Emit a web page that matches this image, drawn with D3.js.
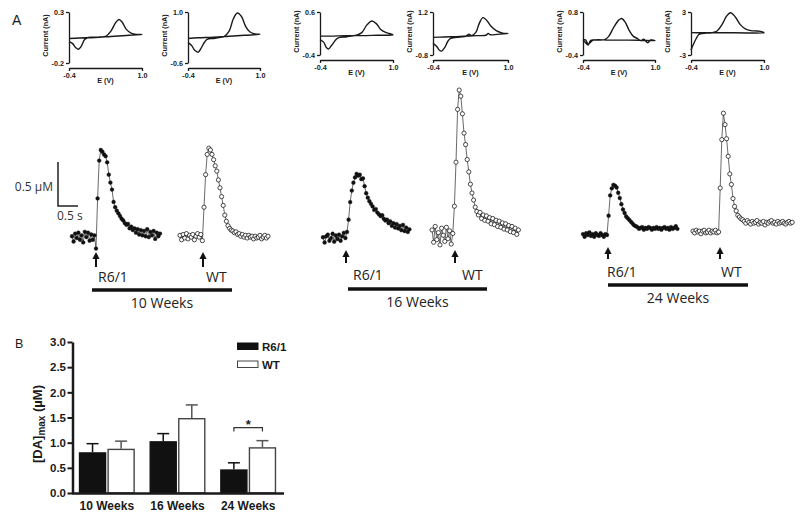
<!DOCTYPE html>
<html><head><meta charset="utf-8">
<script src="https://cdn.jsdelivr.net/npm/d3@7"></script>
<style>body{margin:0;background:#fff}svg{display:block}</style>
</head><body><svg id="c" width="800" height="517"></svg>
<script>
// ---------------- DATA ----------------
// Cyclic voltammograms (E in V, current in nA)
const cvXTicks = [-0.4, 1.0];
const cv1E = [-0.4,-0.33,-0.27,-0.22,-0.17,-0.1,-0.03,0.1,0.2,0.3,0.4,0.5,0.56,0.62,0.7,0.8,0.9,1.0,0.7,0.4,0.1,-0.2,-0.4];
const cv1I = [0.01,-0.01,-0.05,-0.065,-0.04,0.03,0.05,0.052,0.055,0.06,0.11,0.2,0.226,0.2,0.13,0.09,0.08,0.08,0.07,0.06,0.05,0.045,0.04];
const cv2E = [-0.4,-0.33,-0.27,-0.2,-0.15,-0.08,-0.03,0.1,0.2,0.3,0.4,0.48,0.56,0.64,0.72,0.8,0.9,1.0,0.7,0.4,0.1,-0.2,-0.4];
const cv2I = [0.04,-0.05,-0.2,-0.26,-0.15,0.05,0.14,0.17,0.2,0.23,0.4,0.78,0.97,0.86,0.55,0.38,0.31,0.3,0.27,0.24,0.21,0.19,0.17];
const cv3E = [-0.4,-0.33,-0.28,-0.24,-0.18,-0.1,-0.05,0.1,0.2,0.3,0.4,0.5,0.59,0.68,0.76,0.85,0.93,1.0,0.7,0.4,0.1,-0.2,-0.4];
const cv3I = [-0.04,-0.1,-0.22,-0.26,-0.18,-0.05,0.0,0.02,0.04,0.06,0.12,0.3,0.39,0.33,0.2,0.13,0.1,0.07,0.06,0.05,0.05,0.04,0.04];
const cv4E = [-0.4,-0.33,-0.28,-0.24,-0.18,-0.12,-0.07,0.1,0.22,0.27,0.32,0.4,0.46,0.53,0.6,0.68,0.78,0.9,1.0,0.8,0.67,0.63,0.59,0.4,0.1,-0.2,-0.4];
const cv4I = [-0.26,-0.4,-0.58,-0.62,-0.45,-0.15,-0.03,0.04,0.08,0.17,0.1,0.25,0.65,0.94,0.82,0.55,0.33,0.22,0.2,0.16,0.14,0.2,0.12,0.1,0.06,0.04,0.02];
const cv5E = [-0.4,-0.35,-0.3,-0.25,-0.15,-0.05,0.02,0.1,0.2,0.3,0.35,0.42,0.5,0.58,0.66,0.72,0.78,0.86,0.92,1.0,0.7,0.4,0.1,-0.2,-0.3,-0.35,-0.4];
const cv5I = [0.03,-0.06,-0.12,0.01,0.015,0.02,0.03,0.12,0.38,0.58,0.62,0.52,0.28,0.12,0.06,0.0,0.04,-0.06,0.02,0.0,0.01,0.015,0.015,0.015,-0.09,0.02,0.02];
const cv6E = [-0.4,-0.36,-0.3,-0.25,-0.2,-0.1,0.0,0.1,0.2,0.28,0.36,0.45,0.55,0.65,0.75,0.85,0.93,1.0,0.7,0.4,0.1,-0.2,-0.4];
const cv6I = [-2.3,-1.6,-0.7,-0.15,0.0,0.05,0.1,0.35,1.3,2.4,2.9,2.3,1.2,0.6,0.4,0.35,0.3,0.1,0.08,0.1,0.1,0.1,0.12];
const cvYMin = [-0.2,-0.6,-0.4,-0.8,-0.4,-3];
const cvYMax = [0.3,1.0,0.6,1.2,0.8,3];
const cvYLabels = [["-0.2","0.3"],["-0.6","1.0"],["-0.4","0.6"],["-0.8","1.2"],["-0.4","0.8"],["-3","3"]];

// Evoked dopamine traces (µM above baseline), one sample every traceDt s
const traceDt = 0.04;
const trace10R6 = [0.02,-0.04,0.05,0.00,0.06,-0.02,0.03,-0.05,0.07,0.01,0.06,-0.03,0.04,-0.02,0.03,
  -0.12,0.45,0.88,
  1.00,0.98,0.95,0.93,0.86,0.72,0.63,0.55,0.41,0.35,0.31,0.28,0.25,0.22,0.20,0.17,0.15,0.16,0.11,0.13,0.09,
  0.11,0.06,0.10,0.04,0.09,0.03,0.08,0.02,0.10,0.01,0.07,0.03,0.08,-0.01,0.06,0.02,0.05];
const trace10WT = [0.03,-0.02,0.04,0.00,0.05,-0.01,0.03,0.01,0.04,-0.02,0.02,0.05,0.01,0.04,
  -0.03,0.35,0.72,0.95,
  1.02,1.00,0.95,0.89,0.82,0.76,0.66,0.57,0.47,0.37,0.26,0.19,0.14,0.11,0.09,0.08,0.06,0.07,0.04,0.05,0.02,
  0.04,0.01,0.03,0.00,0.03,0.01,0.02,-0.01,0.02,0.00,0.01,0.03,-0.01,0.01,0.03,0.00,0.02];
const trace16R6 = [0.02,-0.04,0.03,0.05,-0.02,0.01,0.06,-0.03,0.04,0.00,0.05,-0.02,0.03,0.07,0.01,
  0.08,0.22,0.42,0.55,0.64,0.70,0.74,0.72,0.73,0.68,0.69,0.60,0.52,0.47,0.43,0.40,0.37,0.33,0.34,0.30,
  0.28,0.26,0.27,0.23,0.21,0.22,0.18,0.20,0.15,0.18,0.13,0.17,0.12,0.15,0.10,0.16,0.09,0.13,0.08,0.11];
const trace16WT = [0.08,-0.06,0.12,-0.03,0.05,-0.09,0.10,0.02,-0.05,0.11,-0.02,0.07,-0.08,0.04,
  0.35,0.85,1.45,1.67,1.60,1.40,1.18,1.05,0.88,0.74,0.60,0.50,0.42,0.34,0.29,0.25,0.28,0.21,0.25,0.19,
  0.24,0.18,0.22,0.15,0.21,0.14,0.19,0.12,0.18,0.11,0.16,0.09,0.15,0.08,0.13,0.06,0.12,0.05,0.10,0.03,0.08];
const trace24R6 = [0.01,-0.02,0.02,0.00,0.03,-0.01,0.01,-0.02,0.02,0.00,-0.01,0.02,0.00,-0.02,0.01,0.00,
  0.22,0.45,0.53,0.57,0.56,0.54,0.48,0.42,0.35,0.29,0.25,0.21,0.19,0.17,0.15,0.13,0.11,0.10,
  0.09,0.07,0.08,0.09,0.06,0.08,0.07,0.09,0.08,0.06,0.08,0.07,0.09,0.07,0.08,0.06,0.08,0.09,0.07,0.08,0.06,0.09,0.07,0.08,0.10,0.07];
const trace24WT = [0.01,-0.01,0.02,0.00,0.01,-0.02,0.01,0.02,-0.01,0.00,0.02,-0.01,0.01,0.00,0.02,-0.01,0.00,
  0.50,1.05,1.35,1.22,1.06,0.86,0.66,0.54,0.38,0.29,0.24,0.19,0.17,0.15,0.14,
  0.12,0.10,0.13,0.11,0.09,0.12,0.10,0.11,0.13,0.09,0.11,0.10,0.12,0.08,0.11,0.10,0.12,0.13,0.10,0.11,0.09,0.12,0.10,0.11,0.12,0.10,0.09,0.11,0.12,0.10,0.11];

const groups = ["10 Weeks","16 Weeks","24 Weeks"];
const genotypes = ["R6/1","WT"];
const scaleBarConc = 0.5;   // µM
const scaleBarTime = 0.5;   // s

// Panel B: [DA]max (µM), mean and SEM
const daMaxR6 = [0.81, 1.03, 0.47];
const daMaxWT = [0.88, 1.49, 0.91];
const semR6 = [0.17, 0.15, 0.13];
const semWT = [0.15, 0.26, 0.13];
const yTicksB = [0, 0.5, 1.0, 1.5, 2.0, 2.5, 3.0];
const sigGroup = "24 Weeks";
const sigLevel = 1.30;

// ---------------- DRAW ----------------
const svg = d3.select("#c");
const ink = "#1a1a1a";
const fontA = "'Open Sans', 'Noto Sans', sans-serif";
const fontB = "'Liberation Sans', Arial, sans-serif";

svg.append("text").attr("x",12).attr("y",25).attr("font-family",fontB).attr("font-size",14).attr("fill",ink).text("A");
svg.append("text").attr("x",15).attr("y",348).attr("font-family",fontB).attr("font-size",12.5).attr("fill",ink).text("B");

// ---- CV insets ----
const cvE = [cv1E,cv2E,cv3E,cv4E,cv5E,cv6E];
const cvI = [cv1I,cv2I,cv3I,cv4I,cv5I,cv6I];
const cvLayout = [
  {x0:69,x1:142,yTop:12,yBot:63,axisY:68},
  {x0:188,x1:260,yTop:12,yBot:63,axisY:68},
  {x0:320,x1:393,yTop:12,yBot:55,axisY:60},
  {x0:433,x1:508,yTop:12,yBot:55,axisY:60},
  {x0:583,x1:655,yTop:12,yBot:55,axisY:60},
  {x0:691,x1:764,yTop:12,yBot:55,axisY:60}
];
function styleSmallAxis(g){
  g.attr("font-family",fontB).attr("font-size",7.2).attr("font-weight","bold");
  g.select(".domain").attr("stroke",ink).attr("stroke-width",1.3);
  g.selectAll(".tick line").attr("stroke",ink).attr("stroke-width",1.3);
  g.selectAll(".tick text").attr("fill",ink);
}
cvLayout.forEach((L,k)=>{
  const x = d3.scaleLinear().domain([-0.4,1.0]).range([L.x0,L.x1]);
  const y = d3.scaleLinear().domain([cvYMin[k],cvYMax[k]]).range([L.yBot,L.yTop]);
  const g = svg.append("g");
  g.append("g").attr("transform",`translate(${L.x0},0)`)
    .call(d3.axisLeft(y).tickValues([cvYMin[k],cvYMax[k]]).tickFormat((d,i)=>cvYLabels[k][i]).tickSize(3).tickSizeOuter(0).tickPadding(2))
    .call(styleSmallAxis);
  g.append("g").attr("transform",`translate(0,${L.axisY})`)
    .call(d3.axisBottom(x).tickValues(cvXTicks).tickFormat(d=>d.toFixed(1)).tickSize(3).tickSizeOuter(0).tickPadding(2))
    .call(styleSmallAxis);
  g.append("text").attr("transform",`translate(${L.x0-21},${(L.yTop+L.yBot)/2-2}) rotate(-90)`)
    .attr("text-anchor","middle").attr("font-family",fontB).attr("font-size",7.2).attr("font-weight","bold").attr("fill",ink)
    .text("Current (nA)");
  g.append("text").attr("x",(L.x0+L.x1)/2).attr("y",L.axisY+15)
    .attr("text-anchor","middle").attr("font-family",fontB).attr("font-size",7.2).attr("font-weight","bold").attr("fill",ink)
    .text("E (V)");
  const line = d3.line().x(d=>x(d[0])).y(d=>y(d[1])).curve(d3.curveCatmullRom.alpha(0.5));
  g.append("path").attr("d",line(d3.zip(cvE[k],cvI[k]))).attr("fill","none").attr("stroke",ink).attr("stroke-width",1.4);
});

// ---- Traces ----
const tScale = d3.scaleLinear().domain([0,1]).range([0,40]);   // px per s
const cScale = d3.scaleLinear().domain([0,1]).range([0,-88]);  // px per µM (up)
const traces = [trace10R6,trace10WT,trace16R6,trace16WT,trace24R6,trace24WT];
const traceLayout = [
  {x0:72, y0:238, filled:true,  arrowX:96,  arrowTop:252, arrowBot:267, labelX:98,  labelY:282},
  {x0:180,y0:238, filled:false, arrowX:203, arrowTop:252, arrowBot:267, labelX:206, labelY:282},
  {x0:323,y0:239, filled:true,  arrowX:346, arrowTop:250, arrowBot:263, labelX:353, labelY:280},
  {x0:432,y0:237, filled:false, arrowX:455, arrowTop:250, arrowBot:263, labelX:462, labelY:280},
  {x0:583,y0:235, filled:true,  arrowX:608, arrowTop:247, arrowBot:259, labelX:607, labelY:277},
  {x0:693,y0:232, filled:false, arrowX:720, arrowTop:247, arrowBot:259, labelX:721, labelY:277}
];
traces.forEach((vals,k)=>{
  const L = traceLayout[k];
  const g = svg.append("g").attr("transform",`translate(${L.x0},${L.y0})`);
  const pts = vals.map((v,i)=>[tScale(i*traceDt), cScale(v)]);
  g.append("path").attr("d",d3.line()(pts)).attr("fill","none").attr("stroke","#444").attr("stroke-width",0.8);
  g.selectAll("circle").data(pts).join("circle")
    .attr("cx",d=>d[0]).attr("cy",d=>d[1])
    .attr("r", L.filled ? 1.9 : 2.1)
    .attr("fill", L.filled ? "#111" : "#fff")
    .attr("stroke", "#111").attr("stroke-width", L.filled ? 0.4 : 0.75);
  // arrow
  svg.append("line").attr("x1",L.arrowX).attr("x2",L.arrowX).attr("y1",L.arrowTop+5).attr("y2",L.arrowBot)
    .attr("stroke","#111").attr("stroke-width",2);
  svg.append("path").attr("d",`M${L.arrowX},${L.arrowTop}L${L.arrowX-3.6},${L.arrowTop+7}L${L.arrowX+3.6},${L.arrowTop+7}Z`).attr("fill","#111");
  svg.append("text").attr("x",L.labelX).attr("y",L.labelY).attr("font-family",fontA).attr("font-size",14).attr("fill","#222")
    .text(genotypes[k%2]);
});
const groupLayout = [
  {x0:92, x1:232, y:290, labelY:308},
  {x0:348,x1:487, y:289, labelY:307},
  {x0:608,x1:748, y:285, labelY:303}
];
groupLayout.forEach((G,k)=>{
  svg.append("line").attr("x1",G.x0).attr("x2",G.x1).attr("y1",G.y).attr("y2",G.y).attr("stroke","#111").attr("stroke-width",3.6);
  svg.append("text").attr("x",(G.x0+G.x1)/2).attr("y",G.labelY).attr("text-anchor","middle")
    .attr("font-family",fontA).attr("font-size",14).attr("fill","#222").text(groups[k]);
});
// scale bar
const sb = svg.append("g").attr("transform","translate(58,206)");
sb.append("path").attr("d",`M0,${cScale(scaleBarConc)}V0H${tScale(scaleBarTime)}`).attr("fill","none").attr("stroke","#222").attr("stroke-width",1.5);
svg.append("text").attr("x",53).attr("y",191).attr("text-anchor","end").attr("font-family",fontA).attr("font-size",12).attr("fill","#333").text("0.5 \u00B5M");
svg.append("text").attr("x",57).attr("y",220).attr("font-family",fontA).attr("font-size",12).attr("fill","#333").text("0.5 s");

// ---- Panel B ----
const yB = d3.scaleLinear().domain([0,3]).range([493,342]);
const xG = d3.scaleBand().domain(groups).range([71.5,283.5]).paddingInner(0.2076).paddingOuter(0.1038);
const xS = d3.scaleBand().domain(genotypes).range([0,xG.bandwidth()]).paddingInner(0.04);
const barData = groups.flatMap((grp,i)=>[
  {grp, gen:genotypes[0], mean:daMaxR6[i], sem:semR6[i]},
  {grp, gen:genotypes[1], mean:daMaxWT[i], sem:semWT[i]}
]);
const gB = svg.append("g");
// error bars (behind bars)
barData.forEach(d=>{
  const cx = xG(d.grp)+xS(d.gen)+xS.bandwidth()/2;
  const col = d.gen===genotypes[0] ? "#111" : "#555";
  gB.append("line").attr("x1",cx).attr("x2",cx).attr("y1",yB(d.mean)).attr("y2",yB(d.mean+d.sem)).attr("stroke",col).attr("stroke-width",1.5);
  gB.append("line").attr("x1",cx-6).attr("x2",cx+6).attr("y1",yB(d.mean+d.sem)).attr("y2",yB(d.mean+d.sem)).attr("stroke",col).attr("stroke-width",1.5);
});
gB.selectAll("rect.bar").data(barData).join("rect").attr("class","bar")
  .attr("x",d=>xG(d.grp)+xS(d.gen)+0.7).attr("width",xS.bandwidth()-1.4)
  .attr("y",d=>yB(d.mean)+0.7).attr("height",d=>yB(0)-yB(d.mean)-0.7)
  .attr("fill",d=>d.gen===genotypes[0]?"#111":"#fff")
  .attr("stroke",d=>d.gen===genotypes[0]?"#111":"#444").attr("stroke-width",1.4);
// axes
const yAx = gB.append("g").attr("transform","translate(72.5,0)")
  .call(d3.axisLeft(yB).tickValues(yTicksB).tickFormat(d3.format(".1f")).tickSize(5).tickSizeOuter(0).tickPadding(1.5));
yAx.attr("font-family",fontB).attr("font-size",11.5).attr("font-weight","bold");
yAx.select(".domain").attr("stroke",ink).attr("stroke-width",2.5);
yAx.selectAll(".tick line").attr("stroke",ink).attr("stroke-width",2);
yAx.selectAll(".tick text").attr("fill",ink);
const xAx = gB.append("g").attr("transform","translate(0,493)")
  .call(d3.axisBottom(xG).tickSize(0).tickSizeOuter(0).tickPadding(8));
xAx.attr("font-family",fontB).attr("font-size",12).attr("font-weight","bold");
xAx.select(".domain").attr("stroke",ink).attr("stroke-width",2.5);
xAx.selectAll(".tick text").attr("fill",ink);
// y label
const yl = gB.append("text").attr("transform","translate(42,424) rotate(-90)").attr("text-anchor","middle")
  .attr("font-family",fontB).attr("font-size",13).attr("font-weight","bold").attr("fill",ink);
yl.append("tspan").text("[DA]");
yl.append("tspan").attr("font-size",10).attr("dy",3).text("max");
yl.append("tspan").attr("dy",-3).text(" (\u00B5M)");
// significance bracket
const bx0 = xG(sigGroup)+xS(genotypes[0])+xS.bandwidth()/2;
const bx1 = xG(sigGroup)+xS(genotypes[1])+xS.bandwidth()/2;
const by = yB(sigLevel);
gB.append("path").attr("d",`M${bx0},${by+4}V${by}H${bx1}V${by+4}`).attr("fill","none").attr("stroke","#333").attr("stroke-width",1.2);
gB.append("text").attr("x",(bx0+bx1)/2).attr("y",by+1.5).attr("text-anchor","middle")
  .attr("font-family",fontB).attr("font-size",13).attr("font-weight","bold").attr("fill",ink).text("*");
// legend
const lg = gB.append("g");
genotypes.forEach((gen,i)=>{
  const yy = 343 + i*18;
  lg.append("rect").attr("x",237.5).attr("y",yy).attr("width",20.5).attr("height",6.5)
    .attr("fill",i===0?"#111":"#fff").attr("stroke",i===0?"#111":"#444").attr("stroke-width",1);
  lg.append("text").attr("x",262).attr("y",yy+7.5).attr("font-family",fontB).attr("font-size",11.5).attr("font-weight","bold").attr("fill",ink).text(gen);
});
</script>
</body></html>
